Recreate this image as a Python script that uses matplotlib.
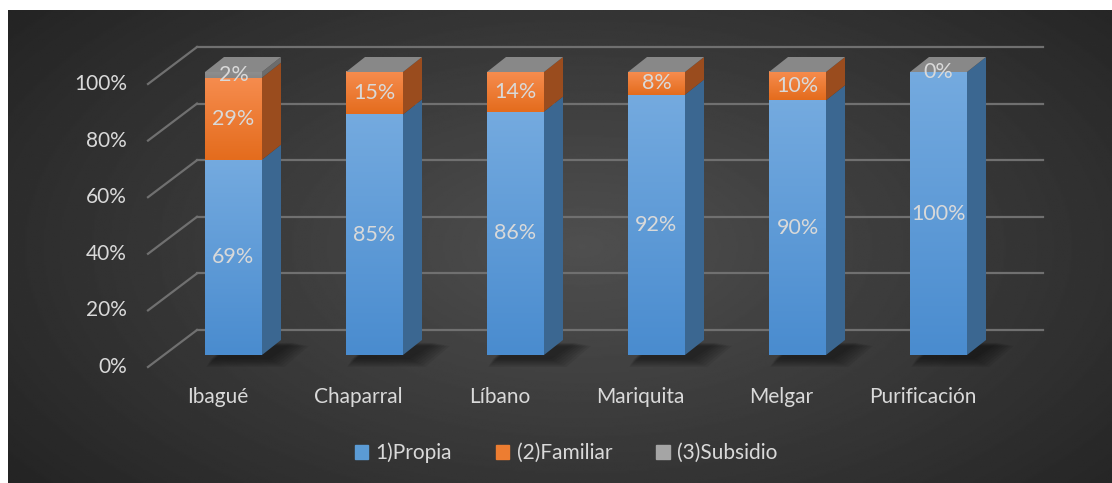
import numpy as np
import matplotlib
matplotlib.use('Agg')
import matplotlib.pyplot as plt
from matplotlib.patches import Polygon, Patch
from matplotlib.colors import LinearSegmentedColormap

plt.rcParams['font.family'] = ['Lato', 'DejaVu Sans']

ciudades = ['Ibagué', 'Chaparral', 'Líbano', 'Mariquita', 'Melgar', 'Purificación']
propia = [69, 85, 86, 92, 90, 100]
familiar = [29, 15, 14, 8, 10, 0]
subsidio = [2, 0, 0, 0, 0, 0]
series_names = ['1)Propia', '(2)Familiar', '(3)Subsidio']
y_ticks = [0, 20, 40, 60, 80, 100]

# figure geometry (pixels) -> data units
W, H = 1112, 483
PX_X, PX_Y = 141.0, 2.83      # px per category / px per percent
X0, Y0 = 233.5, 355.0         # pixel of first bar centre / of 0 %
BAR_W = 57 / PX_X
DX, DY = 19 / PX_X, 15 / PX_Y            # bar depth
BACK_DX, BACK_DY = 33 / PX_X, 25 / PX_Y  # back wall vs bar front
FRONT_DX, FRONT_DY = -16 / PX_X, -12 / PX_Y

text_col = '#d9d9d9'
grid_col = '#707070'

fig = plt.figure(figsize=(W / 100, H / 100), dpi=100, facecolor='white')

# dark radial background
bg = fig.add_axes([8 / W, 0, (W - 8) / W, (H - 10) / H])
yy, xx = np.mgrid[0:1:300j, 0:1:600j]
r = np.sqrt(((xx - 0.52) / 0.6) ** 2 + ((yy - 0.5) / 0.75) ** 2)
bg.imshow(0.31 - 0.155 * r, cmap='gray', vmin=0, vmax=1, aspect='auto',
          extent=(0, 1, 0, 1))
bg.axis('off')

ax = fig.add_axes([0, 0, 1, 1])
ax.set_facecolor('none')
ax.axis('off')

n = len(ciudades)
xs = np.arange(n)

# back wall gridlines + floor diagonals
bw_left = (197 - X0) / PX_X
bw_right = xs[-1] + 0.74
for v in y_ticks:
    ax.plot([bw_left, bw_right], [v + BACK_DY, v + BACK_DY], color=grid_col, lw=1.6, zorder=1)
    ax.plot([bw_left - BACK_DX + FRONT_DX, bw_left], [v + FRONT_DY, v + BACK_DY],
            color=grid_col, lw=1.6, zorder=1)
    ax.text(bw_left - BACK_DX + FRONT_DX - 0.15, v + FRONT_DY, f'{v}%', ha='right',
            va='center', color=text_col, fontsize=15)


def grad_rect(x0, x1, y0, y1, c_top, c_bot, z):
    cmap = LinearSegmentedColormap.from_list('g', [c_bot, c_top])
    g = np.linspace(0, 1, 64).reshape(-1, 1)
    ax.imshow(g, cmap=cmap, origin='lower', extent=(x0, x1, y0, y1),
              aspect='auto', zorder=z, interpolation='bilinear')


front = [('#74aadf', '#4a8ccf'), ('#f68c4e', '#e46c1d'), ('#8e8e8e', '#878787')]
side = ['#3b6791', '#9a4c1e', '#6c6c6c']
data = [propia, familiar, subsidio]

for i in xs:
    xl, xr = i - BAR_W / 2, i + BAR_W / 2
    # soft shadow on the floor
    for k in range(7):
        e = k * 0.018
        ax.add_patch(Polygon([(xl + 0.04 - e * 0.3, -1.5 - e * 25), (xr + 0.05 + e, -1.5 - e * 25),
                              (xr + DX + 0.09 + e, DY - 1 - e * 10), (xl + DX + 0.04, DY - 1 - e * 10)],
                             closed=True, color='black', alpha=0.07, lw=0, zorder=2))
    bottom = 0
    for s, vals in enumerate(data):
        v = vals[i]
        if v > 0:
            grad_rect(xl, xr, bottom, bottom + v, front[s][0], front[s][1], 3)
            ax.add_patch(Polygon([(xr, bottom), (xr + DX, bottom + DY),
                                  (xr + DX, bottom + v + DY), (xr, bottom + v)],
                                 closed=True, color=side[s], lw=0, zorder=3))
        if v > 0 or s == 1:
            ax.text(i, bottom + v / 2, f'{v}%', ha='center', va='center',
                    color=text_col, fontsize=15.5, zorder=5)
        bottom += v
    ax.add_patch(Polygon([(xl, bottom), (xr, bottom), (xr + DX, bottom + DY), (xl + DX, bottom + DY)],
                         closed=True, color='#888888', lw=0, zorder=4))
    ax.text(i + FRONT_DX, -14.8, ciudades[i], ha='center', va='center',
            color=text_col, fontsize=15)

ax.set_xlim(-X0 / PX_X, (W - X0) / PX_X)
ax.set_ylim((Y0 - H) / PX_Y, Y0 / PX_Y)

handles = [Patch(color=c) for c in ['#5b9bd5', '#ed7d31', '#a5a5a5']]
leg = fig.legend(handles, series_names, loc='center', bbox_to_anchor=(0.509, 0.062),
                 ncol=3, frameon=False, fontsize=15, handlelength=0.65, handleheight=0.65,
                 handletextpad=0.35, columnspacing=2.1)
for t in leg.get_texts():
    t.set_color(text_col)

fig.savefig('out.png', dpi=100, facecolor='white')
